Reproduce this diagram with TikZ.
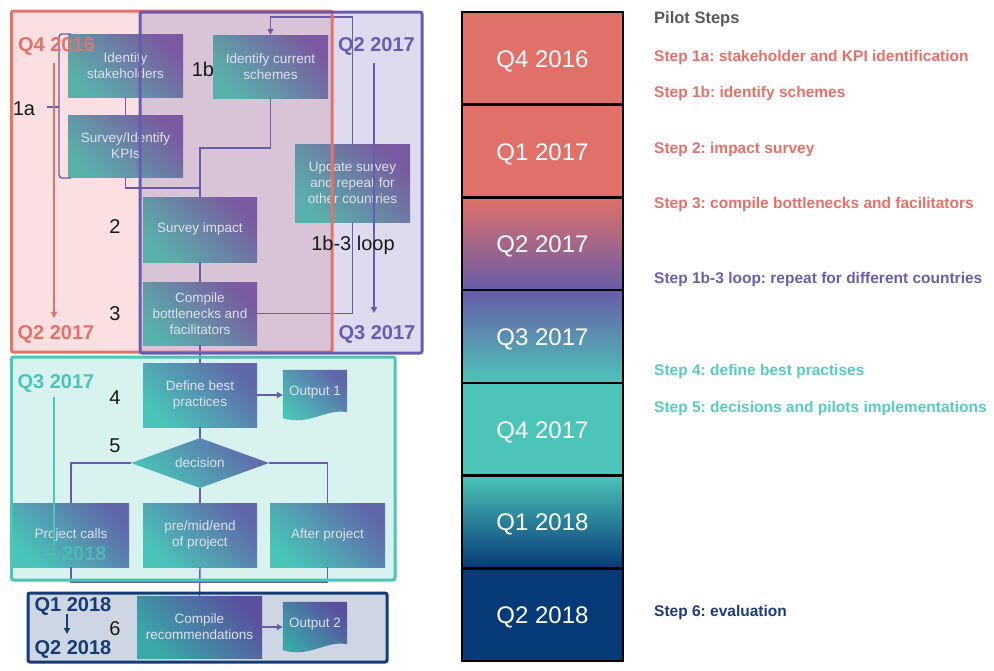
\documentclass[tikz,border=0pt]{standalone}
\usepackage{fontspec}
\setmainfont{Liberation Sans}
\usetikzlibrary{arrows.meta,shapes.geometric,calc}
\definecolor{salmon}{RGB}{224,112,104}
\definecolor{purpT}{RGB}{104,92,168}
\definecolor{tealT}{RGB}{76,196,184}
\definecolor{navyT}{RGB}{6,58,120}
\definecolor{redF}{RGB}{226,114,106}
\definecolor{redFill}{RGB}{250,224,225}
\definecolor{purpF}{RGB}{104,92,176}
\definecolor{tealFill}{RGB}{216,242,240}
\definecolor{navyF}{RGB}{23,59,116}
\definecolor{navyFill}{RGB}{205,214,226}
\definecolor{connC}{RGB}{106,92,170}
\definecolor{boxText}{RGB}{222,224,238}
\definecolor{gTealA}{RGB}{88,176,170}
\definecolor{gPurpA}{RGB}{122,90,160}
\definecolor{gTealB}{RGB}{72,196,184}
\definecolor{gPurpB}{RGB}{96,104,170}
\definecolor{gTealC}{RGB}{56,168,168}
\definecolor{gPurpC}{RGB}{90,80,160}
\definecolor{stRed}{RGB}{230,112,104}
\definecolor{stPurp}{RGB}{108,92,170}
\definecolor{stTeal}{RGB}{86,204,190}
\definecolor{stNavy}{RGB}{30,58,122}
\definecolor{pilotGray}{RGB}{89,89,89}
\begin{document}
\begin{tikzpicture}[x=1pt,y=-1pt,
  boxfont/.style={font=\fontsize{13.5}{16}\selectfont},
  gbox/.style={rectangle, boxfont, text=boxText, align=center, inner sep=2pt,
     top color=gTealA, bottom color=gPurpA, shading angle=135},
  gboxB/.style={gbox, top color=gTealB, bottom color=gPurpB, shading angle=135},
  gboxC/.style={gbox, top color=gTealC, bottom color=gPurpC, shading angle=135},
  gdiam/.style={diamond, aspect=2.76, inner sep=0pt, boxfont, text=boxText,
     minimum width=138, minimum height=50,
     top color=gTealB, bottom color=gPurpB, shading angle=135},
  docnode/.style={rectangle, minimum width=64, minimum height=50, inner sep=0pt, boxfont, text=boxText},
  conn/.style={draw=connC, line width=1.4pt},
  arr/.style={-{Triangle[length=6pt,width=6pt]}},
  qlab/.style={font=\bfseries\fontsize{20}{22}\selectfont, inner sep=0pt},
  numlab/.style={font=\fontsize{20}{22}\selectfont, text=black!90, inner sep=0pt},
  frame/.style={line width=3pt, rounded corners=2pt},
  cell/.style={rectangle, draw=black, line width=2.6pt, minimum width=161, minimum height=92.7},
  celltext/.style={text=white, font=\fontsize{24}{28}\selectfont, inner sep=0pt},
  steplab/.style={anchor=west, font=\bfseries\fontsize{15.5}{18}\selectfont, inner sep=0pt}
]
\useasboundingbox (0,0) rectangle (994,670);

% frame fills
\fill[redFill, rounded corners=2pt] (11.5,11) rectangle (332,352);
\fill[purpF, opacity=0.22, rounded corners=2pt] (140,12) rectangle (422,353);
\fill[tealFill, rounded corners=2pt] (11.5,357) rectangle (395,580);
\fill[navyFill, rounded corners=2pt] (28,593) rectangle (387,662);

% connector coordinates
\coordinate (j1) at (200,148);
\coordinate (j2) at (200,188);
\coordinate (j3) at (270.5,17);
\coordinate (j4) at (200,582);
\coordinate (b1) at (71,34);
\coordinate (b2) at (59,34);
\coordinate (b3) at (59,178);
\coordinate (b4) at (71,178);
\coordinate (bm) at (59,107);
\coordinate (bt) at (47,107);

% nodes
\node[gbox, minimum width=115, minimum height=63] (stake) at (125.5,65.5) {Identify\\stakeholders};
\node[gbox, minimum width=115, minimum height=62] (kpi) at (125.5,146) {Survey/Identify\\KPIs};
\node[gbox, minimum width=115, minimum height=63] (schemes) at (270.5,66.5) {Identify current\\schemes};
\node[gbox, minimum width=115, minimum height=78] (update) at (352.5,183) {Update survey\\and repeat for\\other countries};
\node[gbox, minimum width=114, minimum height=65] (survey) at (200,229.5) {Survey impact};
\node[gbox, minimum width=114, minimum height=63] (compile) at (200,313.5) {Compile\\bottlenecks and\\facilitators};
\node[gboxB, minimum width=114, minimum height=64] (define) at (200,395) {Define best\\practices};
\node[docnode] (out1) at (315,395) {};
\node[gdiam] (dec) at (200,463) {decision};
\node[gboxB, minimum width=116, minimum height=64] (calls) at (71,535) {Project calls};
\node[gboxB, minimum width=114, minimum height=64] (pme) at (200,535) {pre/mid/end\\of project};
\node[gboxB, minimum width=115, minimum height=64] (after) at (327.5,535) {After project};
\node[gboxC, minimum width=125, minimum height=62] (rec) at (199.5,627) {Compile\\recommendations};
\node[docnode] (out2) at (315,627) {};

% document shapes
\foreach \d/\ta/\pb in {out1/gTealB/gPurpB, out2/gTealC/gPurpC}{
  \shade[top color=\ta, bottom color=\pb, shading angle=135]
    (\d.north west) -- (\d.north east) -- ($(\d.south east)+(0,-8)$)
    .. controls ($(\d.south east)+(-22,-12)$) and ($(\d.south west)+(27,6)$) .. ($(\d.south west)+(0,-2)$) -- cycle;
}
\node[docnode] at ($(out1)+(0,-3)$) {Output 1};
\node[docnode] at ($(out2)+(0,-3)$) {Output 2};

% connectors
\draw[conn] (stake.south) -- (kpi.north);
\draw[conn] (kpi.south) |- (j2);
\draw[conn] (schemes.south) |- (j1) -- (survey.north);
\draw[conn] (survey.south) -- (compile.north);
\draw[conn] (compile.east) -| (update.south);
\draw[conn, arr] (update.north) |- (j3) -- (schemes.north);
\draw[conn] (compile.south) -- (define.north);
\draw[conn, arr] (define.east) -- (out1.west);
\draw[conn] (define.south) -- (dec.north);
\draw[conn] (dec.west) -| (calls.north);
\draw[conn] (dec.east) -| (after.north);
\draw[conn] (dec.south) -- (pme.north);
\draw[conn] (calls.south) |- (j4) -| (after.south);
\draw[conn] (pme.south) -- (rec.north);
\draw[conn, arr] (rec.east) -- (out2.west);
\draw[conn, rounded corners=3pt] (b1) -- (b2) -- (b3) -- (b4);
\draw[conn] (bm) -- (bt);

% frame strokes
\draw[frame, redF] (11.5,11) rectangle (332,352);
\draw[frame, purpF] (140,12) rectangle (422,353);
\draw[frame, tealT] (11.5,357) rectangle (395,580);
\draw[frame, navyF] (28,593) rectangle (387,662);

% time arrows
\coordinate (ra1) at (54,63);  \coordinate (ra2) at (54,318);
\coordinate (pa1) at (374,63); \coordinate (pa2) at (374,313);
\coordinate (ta1) at (54,397); \coordinate (ta2) at (54,545);
\coordinate (na1) at (67,614); \coordinate (na2) at (67,634);
\draw[redF, line width=1.5pt, arr] (ra1) -- (ra2);
\draw[purpF, line width=1.5pt, arr] (pa1) -- (pa2);
\draw[tealT, line width=1.5pt] (ta1) -- (ta2);
\draw[navyF, line width=1.5pt, arr] (na1) -- (na2);

% quarter labels
\node[qlab, text=redF] (q1) at (56.5,46) {Q4 2016};
\node[qlab, text=redF] (q2) at (56,334) {Q2 2017};
\node[qlab, text=purpF] (q3) at (376.5,46) {Q2 2017};
\node[qlab, text=purpF] (q4) at (377,334) {Q3 2017};
\node[qlab, text=tealT] (q5) at (56,383) {Q3 2017};
\node[qlab, text=tealT, opacity=0.75] (q6) at (76,554) {-- 2018};
\node[qlab, text=navyF] (q7) at (73,606) {Q1 2018};
\node[qlab, text=navyF] (q8) at (73,649) {Q2 2018};

% number labels
\node[numlab] (n1a) at (24,109) {1a};
\node[numlab] (n1b) at (203,69) {1b};
\node[numlab] (n2) at (115,227) {2};
\node[numlab] (n3) at (115,314) {3};
\node[numlab] (n4) at (115,398) {4};
\node[numlab] (n5) at (115,446) {5};
\node[numlab] (n6) at (115,629) {6};
\node[numlab] (nloop) at (353,245) {1b-3 loop};

% timeline
\node[cell, fill=salmon] (t1) at (542.5,58.35) {};
\node[cell, fill=salmon] (t2) at (542.5,151.05) {};
\node[cell, top color=salmon, bottom color=purpT] (t3) at (542.5,243.75) {};
\node[cell, top color=purpT, bottom color=tealT] (t4) at (542.5,336.45) {};
\node[cell, fill=tealT] (t5) at (542.5,429.15) {};
\node[cell, top color=tealT, middle color=tealT!65!navyT, bottom color=navyT] (t6) at (542.5,521.85) {};
\node[cell, fill=navyT] (t7) at (542.5,614.55) {};
\node[celltext] at ($(t1)+(0,3)$) {Q4 2016};
\node[celltext] at ($(t2)+(0,3)$) {Q1 2017};
\node[celltext] at ($(t3)+(0,3)$) {Q2 2017};
\node[celltext] at ($(t4)+(0,3)$) {Q3 2017};
\node[celltext] at ($(t5)+(0,3)$) {Q4 2017};
\node[celltext] at ($(t6)+(0,3)$) {Q1 2018};
\node[celltext] at ($(t7)+(0,3)$) {Q2 2018};

% pilot steps
\node[steplab, text=pilotGray, font=\bfseries\fontsize{16.5}{19}\selectfont] (ps) at (654,19) {Pilot Steps};
\node[steplab, text=stRed] (s1) at (654,57.5) {Step 1a:\ stakeholder and KPI identification};
\node[steplab, text=stRed] (s2) at (654,93.5) {Step 1b:\ identify schemes};
\node[steplab, text=stRed] (s3) at (654,149.5) {Step 2:\ impact survey};
\node[steplab, text=stRed] (s4) at (654,204.5) {Step 3:\ compile bottlenecks and facilitators};
\node[steplab, text=stPurp] (s5) at (654,279.5) {Step 1b-3 loop:\ repeat for different countries};
\node[steplab, text=stTeal] (s6) at (654,371.5) {Step 4:\ define best practises};
\node[steplab, text=stTeal] (s7) at (654,408.5) {Step 5:\ decisions and pilots implementations};
\node[steplab, text=stNavy] (s8) at (654,612.5) {Step 6:\ evaluation};
\end{tikzpicture}
\end{document}
